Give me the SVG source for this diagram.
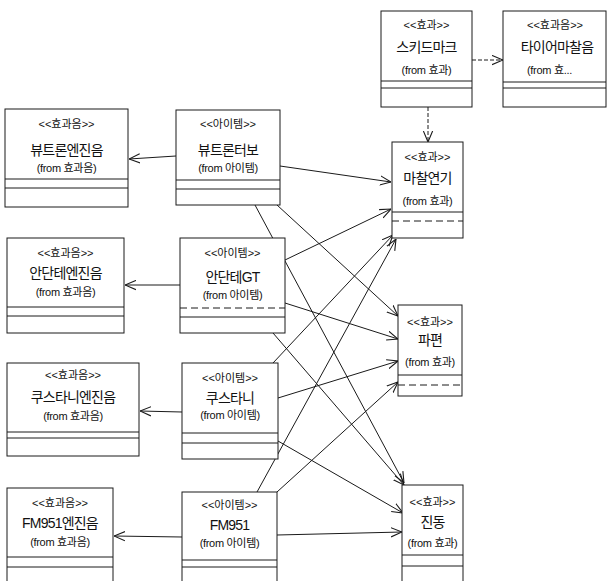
<svg xmlns="http://www.w3.org/2000/svg" width="608" height="581" viewBox="0 0 608 581">
<style>
.box{fill:#fff;stroke:#1a1a1a;stroke-width:1}
.cl{stroke:#1a1a1a;stroke-width:1;fill:none}
.dl{stroke:#1a1a1a;stroke-width:1;fill:none;stroke-dasharray:7,4}
.st{font-family:"Liberation Sans","Noto Sans CJK KR",sans-serif;font-size:11px;fill:#111;text-anchor:middle}
.nm{font-family:"Liberation Sans","Noto Sans CJK KR",sans-serif;font-size:14px;fill:#111;text-anchor:middle;letter-spacing:-0.8px}
.fr{font-family:"Liberation Sans","Noto Sans CJK KR",sans-serif;font-size:11px;fill:#111;text-anchor:middle;letter-spacing:-0.3px}
.c{stroke:#1a1a1a;stroke-width:1;fill:none;marker-end:url(#a)}
.d{stroke:#1a1a1a;stroke-width:1;fill:none;stroke-dasharray:4,2;marker-end:url(#a)}
</style>
<defs>
<marker id="a" viewBox="0 0 10 10" refX="10" refY="5" markerWidth="11" markerHeight="11" markerUnits="userSpaceOnUse" orient="auto">
<path d="M0,0.8 L10,5 L0,9.2" fill="none" stroke="#1a1a1a" stroke-width="1"/>
</marker>
</defs>
<g id="connectors">
<line class="c" x1="176" y1="156" x2="129" y2="159"/>
<line class="c" x1="180" y1="285" x2="125" y2="285"/>
<line class="c" x1="182" y1="412" x2="140" y2="411"/>
<line class="c" x1="182" y1="537" x2="114" y2="536"/>
<line class="c" x1="277" y1="535" x2="402" y2="532"/>
<line class="c" x1="280" y1="166" x2="391" y2="182"/>
<line class="c" x1="277" y1="205" x2="398" y2="316"/>
<line class="c" x1="255" y1="205" x2="404" y2="483"/>
<line class="c" x1="285" y1="260" x2="391" y2="209"/>
<line class="c" x1="285" y1="303" x2="398" y2="339"/>
<line class="c" x1="273" y1="333" x2="404" y2="485"/>
<line class="c" x1="273" y1="363" x2="393" y2="235"/>
<line class="c" x1="278" y1="398" x2="398" y2="361"/>
<line class="c" x1="278" y1="441" x2="403" y2="513"/>
<line class="c" x1="257" y1="492" x2="396" y2="239"/>
<line class="c" x1="277" y1="492" x2="398" y2="382"/>
<line class="d" x1="472" y1="60" x2="503" y2="60"/>
<line class="d" x1="428" y1="107" x2="428" y2="142"/>
</g>
<g id="skidmark">
<rect class="box" x="381" y="11" width="91" height="96"/>
<line class="cl" x1="381" y1="81" x2="472" y2="81"/>
<line class="cl" x1="381" y1="88" x2="472" y2="88"/>
<text class="st" x="426.5" y="29">&lt;&lt;효과&gt;&gt;</text>
<text class="nm" x="426.5" y="52">스키드마크</text>
<text class="fr" x="426.5" y="74">(from 효과)</text>
</g>
<g id="tire-sound">
<rect class="box" x="503" y="11" width="103" height="96"/>
<line class="cl" x1="503" y1="82" x2="606" y2="82"/>
<line class="cl" x1="503" y1="88" x2="606" y2="88"/>
<text class="st" x="555" y="29">&lt;&lt;효과음&gt;&gt;</text>
<text class="nm" x="557" y="52">타이어마찰음</text>
<text class="fr" x="527" y="74" style="text-anchor:start">(from 효...</text>
</g>
<g id="friction-smoke">
<rect class="box" x="392" y="142" width="71" height="96"/>
<line class="cl" x1="392" y1="212" x2="463" y2="212"/>
<line class="dl" x1="392" y1="221" x2="463" y2="221"/>
<text class="st" x="427.5" y="161">&lt;&lt;효과&gt;&gt;</text>
<text class="nm" x="427.5" y="183">마찰연기</text>
<text class="fr" x="427.5" y="205">(from 효과)</text>
</g>
<g id="debris">
<rect class="box" x="398" y="305" width="64" height="91"/>
<line class="cl" x1="398" y1="375" x2="462" y2="375"/>
<line class="dl" x1="398" y1="385" x2="462" y2="385"/>
<text class="st" x="430" y="326">&lt;&lt;효과&gt;&gt;</text>
<text class="nm" x="430" y="345">파편</text>
<text class="fr" x="430" y="366">(from 효과)</text>
</g>
<g id="vibration">
<rect class="box" x="402" y="485" width="61" height="110"/>
<line class="cl" x1="402" y1="555" x2="463" y2="555"/>
<line class="cl" x1="402" y1="566" x2="463" y2="566"/>
<text class="st" x="432.5" y="506">&lt;&lt;효과&gt;&gt;</text>
<text class="nm" x="432.5" y="527">진동</text>
<text class="fr" x="432.5" y="547">(from 효과)</text>
</g>
<g id="butron-engine">
<rect class="box" x="5" y="109" width="123" height="98"/>
<line class="cl" x1="5" y1="179" x2="128" y2="179"/>
<line class="cl" x1="5" y1="188" x2="128" y2="188"/>
<text class="st" x="66.5" y="128">&lt;&lt;효과음&gt;&gt;</text>
<text class="nm" x="66.5" y="155">뷰트론엔진음</text>
<text class="fr" x="66.5" y="172">(from 효과음)</text>
</g>
<g id="butron-turbo">
<rect class="box" x="176" y="110" width="104" height="95"/>
<line class="cl" x1="176" y1="180" x2="280" y2="180"/>
<line class="cl" x1="176" y1="189" x2="280" y2="189"/>
<text class="st" x="228" y="128">&lt;&lt;아이템&gt;&gt;</text>
<text class="nm" x="228" y="155">뷰트론터보</text>
<text class="fr" x="228" y="172">(from 아이템)</text>
</g>
<g id="andante-engine">
<rect class="box" x="7" y="238" width="117" height="95"/>
<line class="cl" x1="7" y1="307" x2="124" y2="307"/>
<line class="cl" x1="7" y1="316" x2="124" y2="316"/>
<text class="st" x="65.5" y="257">&lt;&lt;효과음&gt;&gt;</text>
<text class="nm" x="65.5" y="278">안단테엔진음</text>
<text class="fr" x="65.5" y="296">(from 효과음)</text>
</g>
<g id="andante-gt">
<rect class="box" x="180" y="238" width="105" height="95"/>
<line class="dl" x1="180" y1="308" x2="285" y2="308"/>
<line class="cl" x1="180" y1="317" x2="285" y2="317"/>
<text class="st" x="232.5" y="257">&lt;&lt;아이템&gt;&gt;</text>
<text class="nm" x="232.5" y="282">안단테GT</text>
<text class="fr" x="232.5" y="299">(from 아이템)</text>
</g>
<g id="kustani-engine">
<rect class="box" x="7" y="363" width="132" height="93"/>
<line class="cl" x1="7" y1="432" x2="139" y2="432"/>
<line class="cl" x1="7" y1="438" x2="139" y2="438"/>
<text class="st" x="73" y="379">&lt;&lt;효과음&gt;&gt;</text>
<text class="nm" x="73" y="402">쿠스타니엔진음</text>
<text class="fr" x="73" y="420">(from 효과음)</text>
</g>
<g id="kustani">
<rect class="box" x="182" y="363" width="96" height="96"/>
<line class="cl" x1="182" y1="433" x2="278" y2="433"/>
<line class="cl" x1="182" y1="443" x2="278" y2="443"/>
<text class="st" x="230" y="382">&lt;&lt;아이템&gt;&gt;</text>
<text class="nm" x="230" y="403">쿠스타니</text>
<text class="fr" x="230" y="419">(from 아이템)</text>
</g>
<g id="fm951-engine">
<rect class="box" x="7" y="488" width="106" height="110"/>
<line class="cl" x1="7" y1="557" x2="113" y2="557"/>
<line class="cl" x1="7" y1="567" x2="113" y2="567"/>
<text class="st" x="60" y="507">&lt;&lt;효과음&gt;&gt;</text>
<text class="nm" x="60" y="528">FM951엔진음</text>
<text class="fr" x="60" y="546">(from 효과음)</text>
</g>
<g id="fm951">
<rect class="box" x="182" y="492" width="95" height="110"/>
<line class="cl" x1="182" y1="560" x2="277" y2="560"/>
<line class="cl" x1="182" y1="567" x2="277" y2="567"/>
<text class="st" x="229.5" y="509">&lt;&lt;아이템&gt;&gt;</text>
<text class="nm" x="229.5" y="530">FM951</text>
<text class="fr" x="229.5" y="547">(from 아이템)</text>
</g>
</svg>
